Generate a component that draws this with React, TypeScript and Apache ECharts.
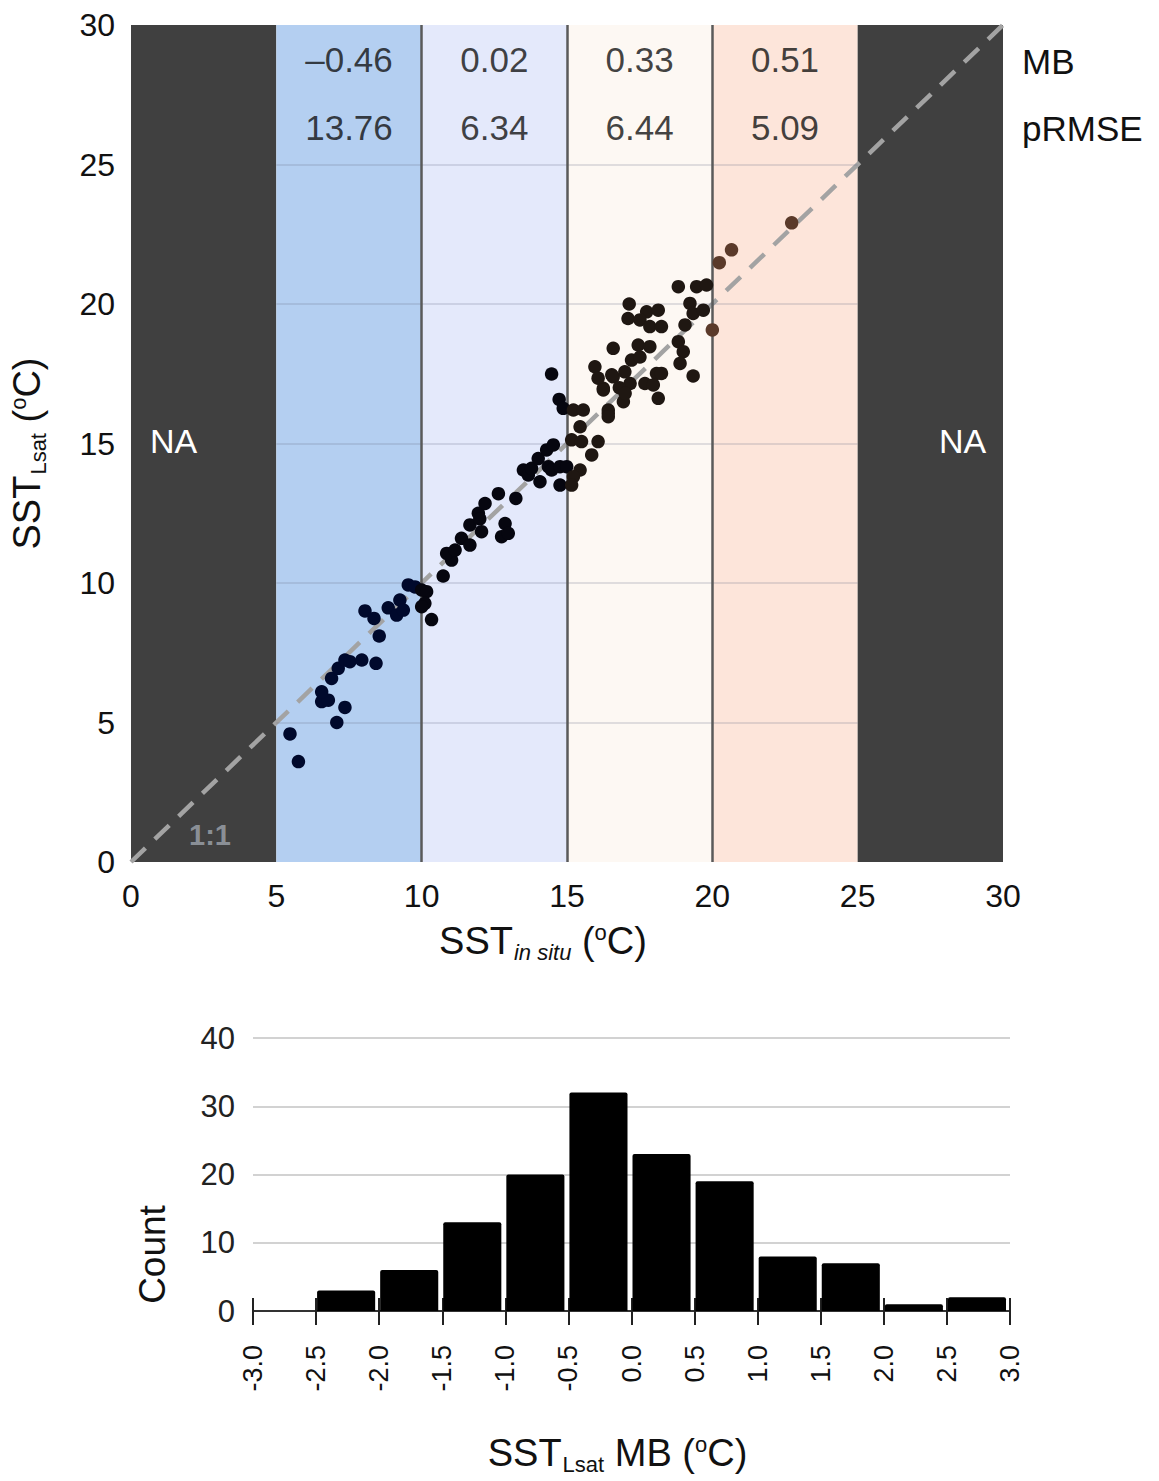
import React, { useEffect, useRef } from "react";
import * as echarts from "echarts";

// ---------- data ----------
const bandEdges = [0, 5, 10, 15, 20, 25, 30];
const bandColors = ["#404040", "#b4cff1", "#e4e9fb", "#fdf8f3", "#fde5da", "#404040"];
const bandCenters = [7.5, 12.5, 17.5, 22.5];
const mbValues = ["\u20130.46", "0.02", "0.33", "0.51"];
const prmseValues = ["13.76", "6.34", "6.44", "5.09"];
const gridLevels = [5, 10, 15, 20, 25];
const separators = [10, 15, 20];

const sstInSitu = [
  5.47, 5.76, 7.08, 7.36, 6.56, 6.79, 6.56, 6.9, 7.13, 7.36, 7.53, 7.94, 8.43, 8.54, 8.05, 8.36, 8.85, 9.14, 9.25, 9.37, 9.54, 9.77,
  10.0, 10.17, 10.11, 10.0, 10.34, 10.74, 11.03, 10.86, 11.15, 11.37, 11.66, 11.66, 12.06, 11.95, 12.0, 12.18, 12.64, 12.87, 12.75, 12.98,
  13.24, 13.5, 13.67, 13.78, 14.07, 14.01, 14.3, 14.53, 14.36, 14.47, 14.76, 14.76, 14.47, 14.73, 14.87,
  15.22, 15.56, 15.45, 15.16, 15.5, 16.07, 15.85, 14.99, 15.45, 15.22, 15.16, 15.96, 16.07, 16.25, 16.54, 16.42, 16.42, 16.42,
  18.83, 19.46, 19.8, 19.23, 19.34, 19.69, 19.06, 18.83, 19.0, 18.89, 19.34, 17.14, 17.74, 18.14, 17.1, 17.51, 17.85, 18.25,
  16.59, 17.45, 17.85, 17.22, 17.51, 18.08, 18.25, 16.25, 16.59, 16.99, 17.17, 17.68, 17.97, 16.94, 18.14, 16.8, 17.0,
  20.0, 20.24, 20.66, 22.73,
];
const sstLsat = [
  4.59, 3.6, 5.0, 5.54, 5.75, 5.8, 6.1, 6.58, 6.94, 7.24, 7.18, 7.24, 7.12, 8.1, 9.0, 8.73, 9.11, 8.85, 9.39, 9.03, 9.93, 9.86,
  9.75, 9.69, 9.27, 9.15, 8.69, 10.25, 10.82, 11.06, 11.18, 11.6, 11.36, 12.08, 11.84, 12.5, 12.3, 12.85, 13.2, 12.13, 11.66, 11.78,
  13.03, 14.05, 13.87, 14.11, 13.63, 14.46, 14.77, 14.95, 14.17, 14.05, 14.17, 13.51, 17.49, 16.58, 16.26,
  16.2, 16.2, 15.6, 15.13, 15.07, 15.07, 14.59, 14.17, 14.05, 13.81, 13.51, 17.75, 17.34, 16.98, 17.46, 16.08, 16.2, 15.96,
  20.62, 20.62, 20.68, 20.02, 19.66, 19.78, 19.25, 18.65, 18.29, 17.87, 17.42, 20.0, 19.72, 19.78, 19.48, 19.43, 19.19, 19.19,
  18.41, 18.53, 18.47, 17.99, 18.1, 17.51, 17.51, 16.92, 17.39, 17.57, 17.15, 17.15, 17.1, 16.5, 16.62, 17.0, 16.8,
  19.07, 21.48, 21.94, 22.91,
];

const histBinStart = [-3.0, -2.5, -2.0, -1.5, -1.0, -0.5, 0.0, 0.5, 1.0, 1.5, 2.0, 2.5];
const histCounts = [0, 3, 6, 13, 20, 32, 23, 19, 8, 7, 1, 2];
const binWidth = 0.5;

// ---------- styling ----------
const FONT = "'Liberation Sans', Arial, Helvetica, sans-serif";
const TXT = "#111111";

const pointColor = (x: number) =>
  x < 10 ? "#00092c" : x < 15 ? "#06060f" : x < 20 ? "#1f1712" : "#5b3a2a";

const richName = {
  a: { fontSize: 38, fontFamily: FONT, color: TXT },
  s: { fontSize: 22, fontFamily: FONT, color: TXT, padding: [23, 0, 0, 1] },
  si: { fontSize: 22, fontFamily: FONT, color: TXT, fontStyle: "italic", padding: [23, 0, 0, 1] },
  o: { fontSize: 22, fontFamily: FONT, color: TXT, padding: [0, 0, 17, 0] },
};

export default function App() {
  const ref = useRef<HTMLDivElement>(null);

  useEffect(() => {
    document.body.style.margin = "0";
    if (!ref.current) return;
    const chart = echarts.init(ref.current, null, { renderer: "svg" });

    const bandAreas = bandColors.map((c, i) => [
      { xAxis: bandEdges[i], itemStyle: { color: c } },
      { xAxis: bandEdges[i + 1] },
    ]);
    const gridLines = gridLevels.map((y) => [
      { coord: [bandEdges[1], y], lineStyle: { color: "rgba(110,118,140,0.28)", width: 1.5, type: "solid" } },
      { coord: [bandEdges[5], y] },
    ]);
    const sepLines = separators.map((x) => ({
      xAxis: x,
      lineStyle: { color: "#5a5a5a", width: 2.5, type: "solid" },
    }));

    const labelRows: any[] = [];
    bandCenters.forEach((c, i) => {
      labelRows.push([c, 28.75, mbValues[i]]);
      labelRows.push([c, 26.33, prmseValues[i]]);
    });

    const option: any = {
      animation: false,
      backgroundColor: "#ffffff",
      textStyle: { fontFamily: FONT },
      grid: [
        { left: 131, top: 25, width: 872, height: 837, outerBoundsMode: "none", containLabel: false },
        { left: 253, top: 1038, width: 757, height: 273, outerBoundsMode: "none", containLabel: false },
      ],
      xAxis: [
        {
          type: "value",
          gridIndex: 0,
          min: 0,
          max: 30,
          interval: 5,
          axisLine: { show: false },
          axisTick: { show: false },
          splitLine: { show: false },
          axisLabel: { fontSize: 32, color: TXT, margin: 18, fontFamily: FONT },
          name: "{a|SST}{si|in situ}{a| (}{o|o}{a|C)}",
          nameLocation: "middle",
          nameGap: 56,
          nameTextStyle: { rich: richName, fontSize: 38, fontFamily: FONT, padding: [0, 48, 0, 0] },
        },
        {
          type: "value",
          gridIndex: 1,
          position: "bottom",
          min: -3,
          max: 3,
          interval: 0.5,
          axisLine: { show: true, onZero: false, lineStyle: { color: "#333", width: 2 } },
          axisTick: { show: true, length: 14, lineStyle: { color: "#222", width: 2 } },
          splitLine: { show: false },
          axisLabel: {
            rotate: 90,
            fontSize: 27,
            color: TXT,
            margin: 34,
            fontFamily: FONT,
            formatter: (v: number) => v.toFixed(1),
          },
          name: "{a|SST}{s|Lsat}{a| MB (}{o|o}{a|C)}",
          nameLocation: "middle",
          nameGap: 119,
          nameTextStyle: { rich: richName, fontSize: 38, fontFamily: FONT, padding: [0, 28, 0, 0] },
        },
        {
          type: "value",
          gridIndex: 1,
          position: "bottom",
          min: -3,
          max: 3,
          interval: 0.5,
          axisLine: { show: false, onZero: false },
          axisTick: { show: true, inside: true, length: 13, lineStyle: { color: "#222", width: 2 } },
          axisLabel: { show: false },
          splitLine: { show: false },
        },
      ],
      yAxis: [
        {
          type: "value",
          gridIndex: 0,
          min: 0,
          max: 30,
          interval: 5,
          axisLine: { show: false },
          axisTick: { show: false },
          splitLine: { show: false },
          axisLabel: { fontSize: 32, color: TXT, margin: 16, fontFamily: FONT },
          name: "{a|SST}{s|Lsat}{a| (}{o|o}{a|C)}",
          nameLocation: "middle",
          nameGap: 82,
          nameTextStyle: { rich: richName, fontSize: 38, fontFamily: FONT, padding: [0, 20, 0, 0] },
        },
        {
          type: "value",
          gridIndex: 1,
          min: 0,
          max: 40,
          interval: 10,
          axisLine: { show: false },
          axisTick: { show: false },
          splitLine: { show: true, lineStyle: { color: "#d2d2d2", width: 2 } },
          axisLabel: { fontSize: 31, color: "#222", margin: 18, fontFamily: FONT },
          name: "Count",
          nameLocation: "middle",
          nameGap: 82,
          nameTextStyle: { fontSize: 37, color: TXT, fontFamily: FONT, padding: [0, 160, 0, 0] },
        },
      ],
      series: [
        {
          name: "bands",
          type: "line",
          xAxisIndex: 0,
          yAxisIndex: 0,
          data: [],
          z: 1,
          silent: true,
          markArea: { silent: true, data: bandAreas },
          markLine: {
            silent: true,
            symbol: ["none", "none"],
            label: { show: false },
            data: [...gridLines, ...sepLines],
          },
        },
        {
          name: "1:1",
          type: "line",
          xAxisIndex: 0,
          yAxisIndex: 0,
          data: [
            [0, 0],
            [30, 30],
          ],
          symbol: "none",
          z: 4,
          lineStyle: { color: "#a3a3a3", width: 4.5, type: [20, 13] },
        },
        {
          name: "points",
          type: "scatter",
          xAxisIndex: 0,
          yAxisIndex: 0,
          z: 5,
          symbolSize: 13.5,
          data: sstInSitu.map((x, i) => [x, sstLsat[i]]),
          itemStyle: { color: (p: any) => pointColor(p.value[0]), opacity: 1 },
        },
        {
          name: "stats",
          type: "scatter",
          xAxisIndex: 0,
          yAxisIndex: 0,
          z: 6,
          symbolSize: 0,
          data: labelRows,
          label: {
            show: true,
            position: "inside",
            formatter: (p: any) => p.value[2],
            fontSize: 35,
            color: TXT,
            fontFamily: FONT,
          },
        },
        {
          name: "histogram",
          type: "custom",
          xAxisIndex: 1,
          yAxisIndex: 1,
          z: 3,
          data: histBinStart.map((s, i) => [s, s + binWidth, histCounts[i]]),
          encode: { x: [0, 1], y: 2 },
          renderItem: (params: any, api: any) => {
            const x0 = api.value(0);
            const x1 = api.value(1);
            const c = api.value(2);
            if (!c) return null;
            const p0 = api.coord([x0, c]);
            const p1 = api.coord([x1, 0]);
            return {
              type: "rect",
              shape: { x: p0[0] + 1, y: p0[1], width: p1[0] - p0[0] - 5, height: p1[1] - p0[1], r: [2, 2, 0, 0] },
              style: { fill: "#000000" },
            };
          },
        },
      ],
      graphic: [
        { type: "text", z: 100, left: 150, top: 424, style: { text: "NA", fontSize: 34, fill: "#ffffff", fontFamily: FONT } },
        { type: "text", z: 100, left: 939, top: 424, style: { text: "NA", fontSize: 34, fill: "#ffffff", fontFamily: FONT } },
        { type: "text", z: 100, left: 189, top: 820, style: { text: "1:1", fontSize: 29, fontWeight: "bold", fill: "#8a8f96", fontFamily: FONT } },
        { type: "text", z: 100, left: 1022, top: 44, style: { text: "MB", fontSize: 35, fill: TXT, fontFamily: FONT } },
        { type: "text", z: 100, left: 1022, top: 111, style: { text: "pRMSE", fontSize: 35, fill: TXT, fontFamily: FONT } },
      ],
    };

    chart.setOption(option);
    return () => chart.dispose();
  }, []);

  return <div ref={ref} style={{ width: 1159, height: 1481 }} />;
}
